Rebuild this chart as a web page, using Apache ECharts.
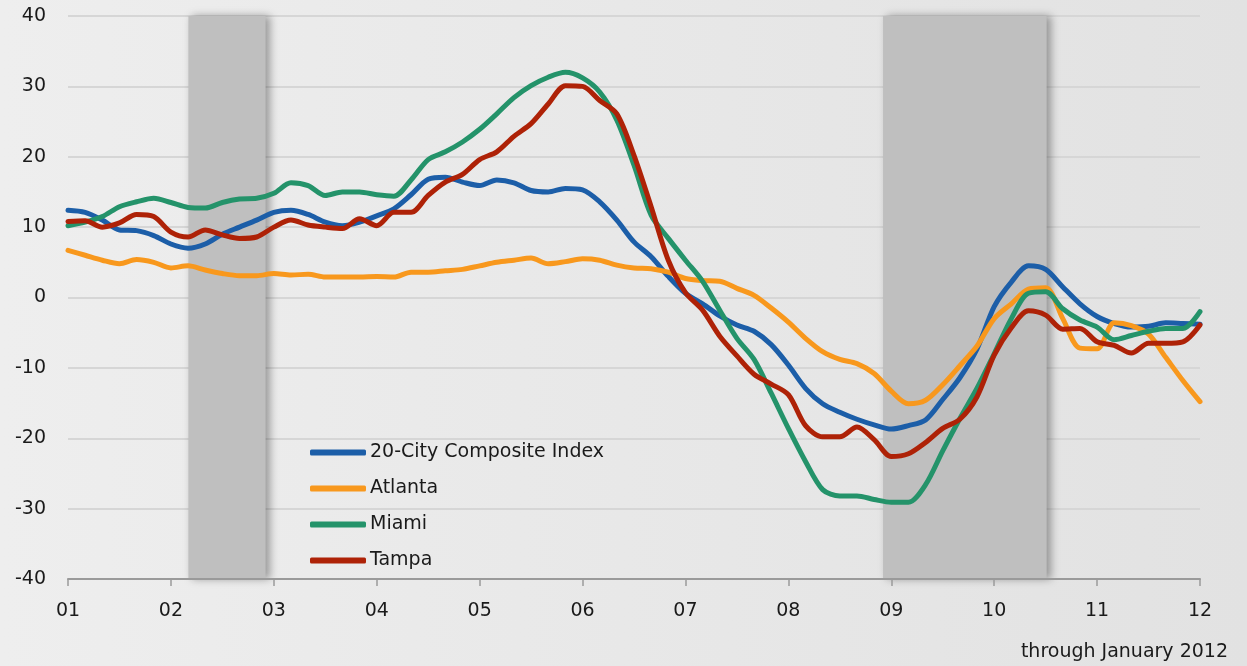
<!DOCTYPE html>
<html>
<head>
<meta charset="utf-8">
<script src="https://cdn.jsdelivr.net/npm/echarts@6/dist/echarts.min.js"></script>
<style>
  html, body { margin: 0; padding: 0; background: #ebebeb; }
  #chart { width: 1247px; height: 666px; }
</style>
</head>
<body>
<div id="chart"></div>
<script>
// 数据：2001年1月起，每两个月一个点（年同比 %）
const startYear = 2001
const stepMonths = 2
const yTicks = [-40, -30, -20, -10, 0, 10, 20, 30, 40]
const seriesNames = ['20-City Composite Index', 'Atlanta', 'Miami', 'Tampa']
const seriesColors = ['#1c5ea8', '#f8981d', '#24936a', '#ae2207']

const composite20 = [12.4,12.1,11.0,9.6,9.5,8.8,7.6,7.0,7.6,9.0,10.0,11.0,12.1,12.4,11.8,10.7,10.2,10.7,
  11.6,12.6,14.6,16.8,17.1,16.4,15.9,16.7,16.3,15.2,15.0,15.5,15.3,13.6,11.0,7.9,
  5.8,3.0,0.6,-0.9,-2.6,-3.9,-4.8,-6.7,-9.6,-12.9,-15.1,-16.3,-17.3,-18.1,-18.7,-18.2,-17.4,
  -14.5,-11.4,-7.3,-1.3,2.2,4.5,4.0,1.5,-0.9,-2.7,-3.7,-4.2,-4.1,-3.6,-3.7,-3.8]
const atlanta = [6.7,6.0,5.3,4.8,5.4,5.0,4.2,4.5,3.9,3.4,3.1,3.1,3.4,3.2,3.3,2.9,2.9,2.9,
  3.0,2.9,3.6,3.6,3.8,4.0,4.5,5.0,5.3,5.6,4.8,5.1,5.5,5.3,4.6,4.2,
  4.1,3.6,2.7,2.4,2.3,1.3,0.3,-1.5,-3.5,-5.8,-7.7,-8.8,-9.4,-10.8,-13.3,-15.1,-14.6,
  -12.4,-9.7,-6.9,-3.0,-0.9,1.2,1.4,-3.0,-7.2,-7.3,-3.6,-4.0,-5.2,-8.5,-11.8,-14.8]
const miami = [10.2,10.7,11.5,12.9,13.6,14.1,13.5,12.8,12.7,13.5,14.0,14.1,14.8,16.3,15.9,14.5,15.0,15.0,
  14.6,14.4,16.7,19.6,20.7,22.1,23.9,26.1,28.4,30.1,31.3,32.0,31.2,29.2,25.2,18.8,
  11.7,8.4,5.3,2.3,-1.8,-5.8,-8.8,-13.6,-18.6,-23.3,-27.3,-28.2,-28.2,-28.7,-29.1,-29.1,-26.6,
  -21.8,-17.2,-12.9,-8.0,-3.0,0.6,0.8,-1.6,-3.2,-4.2,-6.0,-5.4,-4.8,-4.4,-4.4,-2.0]
const tampa = [10.8,10.9,10.0,10.6,11.8,11.5,9.3,8.6,9.6,8.9,8.4,8.6,10.0,11.0,10.3,10.0,9.8,11.2,
  10.2,12.1,12.1,14.5,16.4,17.5,19.6,20.7,22.9,24.7,27.5,30.1,30.0,28.0,26.1,20.2,
  12.9,5.3,0.7,-1.8,-5.5,-8.3,-10.9,-12.3,-13.8,-18.2,-19.8,-19.8,-18.4,-20.2,-22.6,-22.2,-20.6,
  -18.6,-17.3,-14.1,-8.2,-4.3,-1.9,-2.5,-4.5,-4.4,-6.3,-6.8,-7.9,-6.5,-6.5,-6.3,-3.9]

// 阴影区间（衰退期，年份小数）
const recessionStart = [2002.17, 2008.92]
const recessionEnd = [2002.92, 2010.51]

const allData = [composite20, atlanta, miami, tampa]
const fontFamily = 'DejaVu Sans'

function toPairs(values) {
  return values.map((v, i) => [startYear + i * stepMonths / 12, v])
}

const chart = echarts.init(document.getElementById('chart'))

const series = [
  {
    name: 'recession',
    type: 'line',
    data: [],
    z: 1,
    silent: true,
    markArea: {
      silent: true,
      itemStyle: {
        color: '#bfbfbf',
        shadowColor: 'rgba(0,0,0,0.35)',
        shadowBlur: 8,
        shadowOffsetX: 4
      },
      data: recessionStart.map((s, i) => [{ xAxis: s }, { xAxis: recessionEnd[i] }])
    }
  }
]
allData.forEach((values, i) => {
  series.push({
    name: seriesNames[i],
    type: 'line',
    data: toPairs(values),
    showSymbol: false,
    symbol: 'none',
    smooth: 0.3,
    z: 3 + i,
    lineStyle: { color: seriesColors[i], width: 5, cap: 'round', join: 'round' },
    itemStyle: { color: seriesColors[i] }
  })
})

const option = {
  animation: false,
  backgroundColor: new echarts.graphic.LinearGradient(0, 0, 1, 0, [
    { offset: 0, color: '#eeeeee' },
    { offset: 1, color: '#e2e2e2' }
  ]),
  grid: { left: 68, right: 47, top: 16, bottom: 87 },
  legend: {
    data: seriesNames,
    orient: 'vertical',
    left: 310,
    top: 443,
    padding: 0,
    itemGap: 17,
    itemWidth: 56,
    itemHeight: 6,
    icon: 'roundRect',
    textStyle: { color: '#1a1a1a', fontSize: 19, fontFamily: fontFamily, padding: [0, 0, 0, -1] }
  },
  xAxis: {
    type: 'value',
    min: 2001,
    max: 2012,
    interval: 1,
    z: 6,
    axisLine: { onZero: false, lineStyle: { color: '#9a9a9a', width: 2 } },
    axisTick: { show: true, length: 7, lineStyle: { color: '#9a9a9a', width: 1.5 } },
    splitLine: { show: false },
    axisLabel: {
      color: '#1a1a1a',
      fontSize: 19,
      fontFamily: fontFamily,
      margin: 23,
      formatter: v => String(v % 100).padStart(2, '0')
    }
  },
  yAxis: {
    type: 'value',
    min: yTicks[0],
    max: yTicks[yTicks.length - 1],
    interval: 10,
    z: 0,
    axisLine: { show: false },
    axisTick: { show: false },
    splitLine: { lineStyle: { color: '#d6d6d6', width: 2 } },
    axisLabel: { color: '#1a1a1a', fontSize: 19, fontFamily: fontFamily, margin: 22 }
  },
  graphic: [
    {
      type: 'text',
      right: 19,
      top: 643,
      style: { text: 'through January 2012', fill: '#1a1a1a', fontSize: 19, fontFamily: fontFamily }
    }
  ],
  series: series
}

chart.setOption(option)
</script>
</body>
</html>
